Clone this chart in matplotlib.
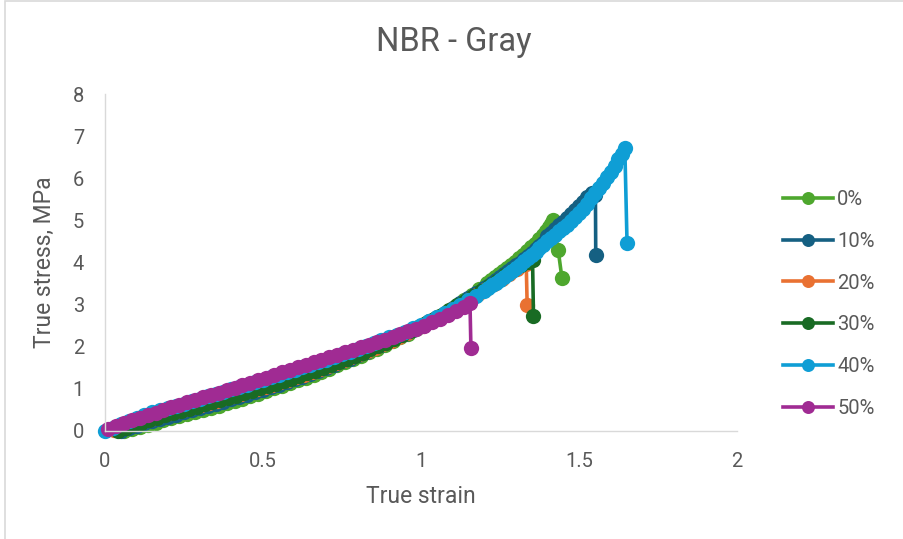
import matplotlib
matplotlib.use("Agg")
import matplotlib.pyplot as plt
from matplotlib.patches import Rectangle

plt.rcParams['font.family'] = ['Roboto', 'DejaVu Sans']

#Series (true strain, true stress in MPa)
labels = ['0%', '10%', '20%', '30%', '40%', '50%']
colors = ['#4EA72E', '#156082', '#E97132', '#196B24', '#0F9ED5', '#A02B93']

strain_0 = [0.06, 0.085, 0.11, 0.135, 0.16, 0.185, 0.21, 0.235, 0.26, 0.285,
            0.31, 0.335, 0.36, 0.385, 0.41, 0.435, 0.46, 0.485, 0.51, 0.535,
            0.56, 0.585, 0.61, 0.635, 0.66, 0.685, 0.71, 0.735, 0.76, 0.785,
            0.81, 0.835, 0.86, 0.885, 0.91, 0.935, 0.96, 0.985, 1.01, 1.035,
            1.06, 1.085, 1.11, 1.135, 1.16, 1.185, 1.21, 1.2225, 1.235, 1.2475,
            1.26, 1.2725, 1.285, 1.2975, 1.31, 1.3225, 1.335, 1.3475, 1.36,
            1.3725, 1.385, 1.395, 1.405, 1.412, 1.418, 1.434, 1.446]
stress_0 = [0.00, 0.05, 0.10, 0.15, 0.20, 0.25, 0.30, 0.35, 0.40, 0.45,
            0.50, 0.55, 0.60, 0.66, 0.71, 0.77, 0.83, 0.89, 0.95, 1.01,
            1.07, 1.14, 1.20, 1.27, 1.34, 1.41, 1.48, 1.56, 1.63, 1.71,
            1.79, 1.87, 1.95, 2.04, 2.13, 2.22, 2.31, 2.41, 2.51, 2.62,
            2.73, 2.85, 2.97, 3.10, 3.23, 3.37, 3.52, 3.58, 3.65, 3.72,
            3.79, 3.86, 3.94, 4.02, 4.10, 4.18, 4.27, 4.36, 4.45,
            4.55, 4.65, 4.74, 4.84, 4.92, 5.00, 4.30, 3.63]

strain_10 = [0.05, 0.075, 0.10, 0.125, 0.15, 0.175, 0.20, 0.225, 0.25, 0.275,
             0.30, 0.325, 0.35, 0.375, 0.40, 0.425, 0.45, 0.475, 0.50, 0.525,
             0.55, 0.575, 0.60, 0.625, 0.65, 0.675, 0.70, 0.725, 0.75, 0.775,
             0.80, 0.825, 0.85, 0.875, 0.90, 0.925, 0.95, 0.975, 1.00, 1.025,
             1.05, 1.075, 1.10, 1.125, 1.15, 1.175, 1.20, 1.2125, 1.225, 1.2375,
             1.25, 1.2625, 1.275, 1.2875, 1.30, 1.3125, 1.325, 1.3375, 1.35,
             1.3625, 1.375, 1.3875, 1.40, 1.4125, 1.425, 1.4375, 1.45, 1.4625,
             1.475, 1.4875, 1.50, 1.5125, 1.525, 1.54, 1.552, 1.553]
stress_10 = [0.00, 0.06, 0.12, 0.18, 0.23, 0.29, 0.34, 0.39, 0.44, 0.49,
             0.54, 0.59, 0.64, 0.70, 0.75, 0.81, 0.86, 0.92, 0.98, 1.04,
             1.10, 1.16, 1.23, 1.29, 1.36, 1.43, 1.50, 1.57, 1.65, 1.72,
             1.80, 1.88, 1.96, 2.04, 2.13, 2.22, 2.31, 2.40, 2.50, 2.60,
             2.70, 2.81, 2.92, 3.03, 3.15, 3.27, 3.39, 3.45, 3.52, 3.58,
             3.65, 3.72, 3.79, 3.86, 3.93, 4.00, 4.08, 4.15, 4.23,
             4.31, 4.39, 4.47, 4.62, 4.70, 4.79, 4.88, 4.97, 5.06,
             5.15, 5.24, 5.33, 5.44, 5.55, 5.66, 5.60, 4.17]

strain_20 = [0.03, 0.055, 0.08, 0.105, 0.13, 0.155, 0.18, 0.205, 0.23, 0.255,
             0.28, 0.305, 0.33, 0.355, 0.38, 0.405, 0.43, 0.455, 0.48, 0.505,
             0.53, 0.555, 0.58, 0.605, 0.63, 0.655, 0.68, 0.705, 0.73, 0.755,
             0.78, 0.805, 0.83, 0.855, 0.88, 0.905, 0.93, 0.955, 0.98, 1.005,
             1.03, 1.055, 1.08, 1.105, 1.13, 1.155, 1.18, 1.205, 1.23, 1.255,
             1.28, 1.305, 1.333, 1.336]
stress_20 = [0.02, 0.08, 0.14, 0.20, 0.26, 0.31, 0.37, 0.42, 0.47, 0.52,
             0.57, 0.62, 0.67, 0.72, 0.78, 0.83, 0.88, 0.94, 0.99, 1.05,
             1.10, 1.16, 1.22, 1.28, 1.34, 1.41, 1.47, 1.54, 1.61, 1.68,
             1.75, 1.82, 1.90, 1.98, 2.06, 2.14, 2.23, 2.32, 2.41, 2.50,
             2.60, 2.70, 2.80, 2.91, 3.02, 3.13, 3.25, 3.37, 3.49, 3.61,
             3.73, 3.85, 3.96, 2.98]

strain_30 = [0.04, 0.065, 0.09, 0.115, 0.14, 0.165, 0.19, 0.215, 0.24, 0.265,
             0.29, 0.315, 0.34, 0.365, 0.39, 0.415, 0.44, 0.465, 0.49, 0.515,
             0.54, 0.565, 0.59, 0.615, 0.64, 0.665, 0.69, 0.715, 0.74, 0.765,
             0.79, 0.815, 0.84, 0.865, 0.89, 0.915, 0.94, 0.965, 0.99, 1.015,
             1.04, 1.065, 1.09, 1.115, 1.14, 1.165, 1.19, 1.215, 1.24, 1.265,
             1.29, 1.315, 1.34, 1.353, 1.356]
stress_30 = [0.00, 0.07, 0.14, 0.20, 0.26, 0.32, 0.37, 0.43, 0.48, 0.53,
             0.58, 0.63, 0.68, 0.74, 0.79, 0.84, 0.90, 0.95, 1.01, 1.06,
             1.12, 1.18, 1.24, 1.30, 1.37, 1.43, 1.50, 1.57, 1.64, 1.71,
             1.78, 1.86, 1.94, 2.02, 2.10, 2.19, 2.28, 2.37, 2.46, 2.56,
             2.66, 2.76, 2.87, 2.98, 3.09, 3.21, 3.33, 3.45, 3.57, 3.70,
             3.83, 3.94, 4.02, 4.06, 2.72]

strain_40 = [0.00, 0.025, 0.05, 0.075, 0.10, 0.125, 0.15, 0.175, 0.20, 0.225,
             0.25, 0.275, 0.30, 0.325, 0.35, 0.375, 0.40, 0.425, 0.45, 0.475,
             0.50, 0.525, 0.55, 0.575, 0.60, 0.625, 0.65, 0.675, 0.70, 0.725,
             0.75, 0.775, 0.80, 0.825, 0.85, 0.875, 0.90, 0.925, 0.95, 0.975,
             1.00, 1.025, 1.05, 1.075, 1.10, 1.125, 1.15, 1.175, 1.20, 1.2125,
             1.225, 1.2375, 1.25, 1.2625, 1.275, 1.2875, 1.30, 1.3125, 1.325,
             1.3375, 1.35, 1.3625, 1.375, 1.3875, 1.40, 1.4125, 1.425, 1.4375,
             1.45, 1.4625, 1.475, 1.4875, 1.50, 1.5125, 1.525, 1.5375, 1.55,
             1.5625, 1.575, 1.5875, 1.60, 1.6125, 1.625, 1.635, 1.645, 1.652]
stress_40 = [0.00, 0.08, 0.16, 0.24, 0.31, 0.38, 0.44, 0.50, 0.55, 0.60,
             0.65, 0.71, 0.76, 0.82, 0.88, 0.93, 0.99, 1.05, 1.10, 1.16,
             1.22, 1.28, 1.33, 1.39, 1.45, 1.51, 1.57, 1.63, 1.69, 1.75,
             1.82, 1.88, 1.94, 2.01, 2.08, 2.15, 2.22, 2.29, 2.36, 2.44,
             2.52, 2.61, 2.70, 2.80, 2.90, 3.00, 3.10, 3.21, 3.33, 3.39,
             3.46, 3.52, 3.59, 3.66, 3.73, 3.80, 3.88, 3.95, 4.03,
             4.10, 4.18, 4.26, 4.34, 4.42, 4.50, 4.58, 4.66, 4.74,
             4.82, 4.90, 4.99, 5.08, 5.17, 5.28, 5.40, 5.52, 5.64,
             5.76, 5.89, 6.02, 6.15, 6.30, 6.45, 6.58, 6.72, 4.47]

strain_50 = [0.01, 0.035, 0.06, 0.085, 0.11, 0.135, 0.16, 0.185, 0.21, 0.235,
             0.26, 0.285, 0.31, 0.335, 0.36, 0.385, 0.41, 0.435, 0.46, 0.485,
             0.51, 0.535, 0.56, 0.585, 0.61, 0.635, 0.66, 0.685, 0.71, 0.735,
             0.76, 0.785, 0.81, 0.835, 0.86, 0.885, 0.91, 0.935, 0.96, 0.985,
             1.01, 1.035, 1.06, 1.085, 1.11, 1.135, 1.155, 1.158]
stress_50 = [0.05, 0.12, 0.18, 0.25, 0.31, 0.37, 0.43, 0.50, 0.56, 0.62,
             0.68, 0.74, 0.80, 0.86, 0.91, 0.97, 1.03, 1.09, 1.15, 1.21,
             1.27, 1.33, 1.39, 1.45, 1.51, 1.57, 1.63, 1.69, 1.75, 1.81,
             1.87, 1.93, 1.99, 2.05, 2.11, 2.17, 2.23, 2.30, 2.37, 2.43,
             2.50, 2.58, 2.66, 2.75, 2.84, 2.94, 3.03, 1.96]

strains = [strain_0, strain_10, strain_20, strain_30, strain_40, strain_50]
stresses = [stress_0, stress_10, stress_20, stress_30, stress_40, stress_50]

x_ticks = [0, 0.5, 1, 1.5, 2]
y_ticks = [0, 1, 2, 3, 4, 5, 6, 7, 8]

text_color = '#595959'
axis_color = '#D9D9D9'

fig = plt.figure(figsize=(9.04, 5.39), dpi=100)
ax = fig.add_axes([105 / 904, 1 - 431 / 539, 632 / 904, 337 / 539])

for xs, ys, c, lab in zip(strains, stresses, colors, labels):
    ax.plot(xs, ys, color=c, linewidth=2.6, marker='o', markersize=11,
            markeredgewidth=0, label=lab, clip_on=False)

ax.set_xlim(0, 2)
ax.set_ylim(0, 8)
ax.set_xticks(x_ticks)
ax.set_xticklabels(['0', '0.5', '1', '1.5', '2'])
ax.set_yticks(y_ticks)

for side in ['top', 'right']:
    ax.spines[side].set_visible(False)
for side in ['left', 'bottom']:
    ax.spines[side].set_color(axis_color)
    ax.spines[side].set_linewidth(1.0)

ax.tick_params(axis='both', length=0, labelsize=14.5, labelcolor=text_color)
ax.tick_params(axis='x', pad=15)
ax.tick_params(axis='y', pad=15)

ax.set_xlabel('True strain', fontsize=16.5, color=text_color, labelpad=10)
ax.set_ylabel('True stress, MPa', fontsize=16.5, color=text_color, labelpad=12)

fig.text(454 / 904, 1 - 42 / 539, 'NBR - Gray', fontsize=23.5, color=text_color,
         ha='center', va='center')

leg = ax.legend(loc='upper left', bbox_to_anchor=(783 / 904, 1 - 190 / 539),
                bbox_transform=fig.transFigure, frameon=False, fontsize=14.5,
                handlelength=2.5, handletextpad=0.2, labelspacing=1.13,
                borderaxespad=0, borderpad=0, markerscale=0.85)
for t in leg.get_texts():
    t.set_color(text_color)

#chart border like in the sheet
fig.patches.append(Rectangle((5 / 904, -0.01), 1.0, 1.0 - 1 / 539 + 0.01,
                             transform=fig.transFigure, fill=False,
                             edgecolor='#D9D9D9', linewidth=1.2))

fig.savefig('out.png', dpi=100)
